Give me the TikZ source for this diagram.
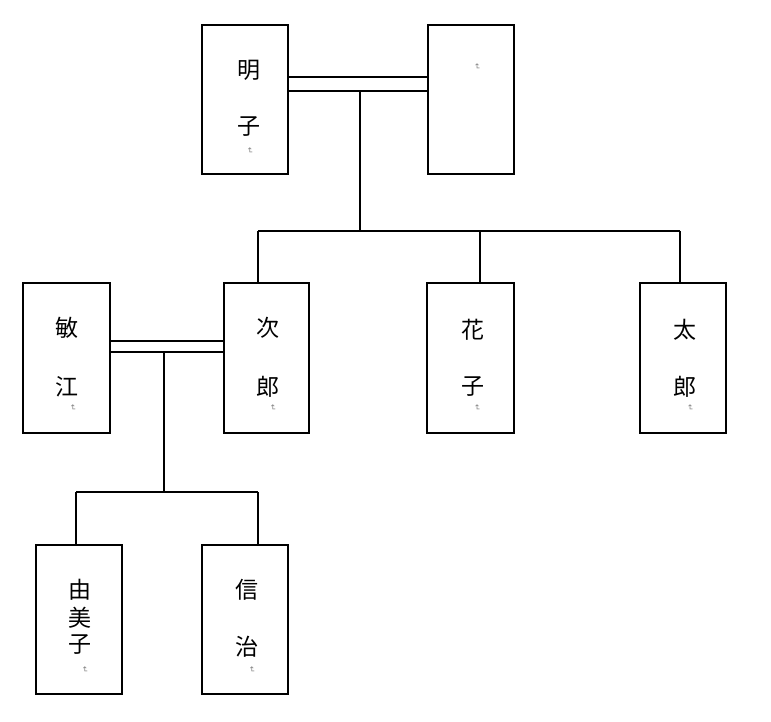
\documentclass[tikz,border=0pt]{standalone}
\usepackage{fontspec}
\newfontfamily\cjk{Noto Sans CJK JP}
\newfontfamily\symf{DejaVu Sans}
\begin{document}
\begin{tikzpicture}[x=1pt,y=-1pt,
  person/.style={draw=black,line width=1.9pt,fill=white},
  link/.style={draw=black,line width=1.9pt},
  ch/.style={font=\cjk\fontsize{23}{23}\selectfont,inner sep=0pt},
  retmark/.style={font=\symf\fontsize{8}{8}\selectfont,text=gray,rotate=-90,inner sep=0pt}]
\useasboundingbox[fill=white] (0,0) rectangle (771,722);
% boxes
\draw[person] (202,25) rectangle (288,174);
\draw[person] (428,25) rectangle (514,174);
\draw[person] (23,283) rectangle (110,433);
\draw[person] (224,283) rectangle (309,433);
\draw[person] (427,283) rectangle (514,433);
\draw[person] (640,283) rectangle (726,433);
\draw[person] (36,545) rectangle (122,694);
\draw[person] (202,545) rectangle (288,694);
% named anchor points
\coordinate (a1) at (288,77); \coordinate (s1) at (428,77);
\coordinate (a2) at (288,91); \coordinate (s2) at (428,91);
\coordinate (m1) at (360,91); \coordinate (m2) at (360,231);
\coordinate (bL) at (258,231); \coordinate (bR) at (680,231); \coordinate (bM) at (480,231);
\coordinate (jiroT) at (258,283); \coordinate (hanakoT) at (480,283); \coordinate (taroT) at (680,283);
\coordinate (t1) at (110,341); \coordinate (j1) at (224,341);
\coordinate (t2) at (110,352); \coordinate (j2) at (224,352);
\coordinate (n1) at (164,352); \coordinate (n2) at (164,492);
\coordinate (cL) at (76,492); \coordinate (cR) at (258,492);
\coordinate (yumikoT) at (76,545); \coordinate (nobuT) at (258,545);
% connectors
\draw[link] (a1) -- (s1);
\draw[link] (a2) -- (s2);
\draw[link] (m1) -- (m2);
\draw[link] (bL) -- (bR);
\draw[link] (bL) -- (jiroT);
\draw[link] (bM) -- (hanakoT);
\draw[link] (bR) -- (taroT);
\draw[link] (t1) -- (j1);
\draw[link] (t2) -- (j2);
\draw[link] (n1) -- (n2);
\draw[link] (cL) -- (cR);
\draw[link] (cL) -- (yumikoT);
\draw[link] (cR) -- (nobuT);
% texts
\node[ch] (t_a1) at (249,70) {明};
\node[ch] (t_a2) at (249,127) {子};
\node[retmark] (r_a) at (250,151) {↵};
\node[retmark] (r_s) at (477,67) {↵};
\node[ch] (t_t1) at (67,328) {敏};
\node[ch] (t_t2) at (67,387) {江};
\node[retmark] (r_t) at (73,408) {↵};
\node[ch] (t_j1) at (268,328) {次};
\node[ch] (t_j2) at (268,387) {郎};
\node[retmark] (r_j) at (273,408) {↵};
\node[ch] (t_h1) at (473,330) {花};
\node[ch] (t_h2) at (473,387) {子};
\node[retmark] (r_h) at (477,408) {↵};
\node[ch] (t_r1) at (685,330) {太};
\node[ch] (t_r2) at (685,387) {郎};
\node[retmark] (r_r) at (690,408) {↵};
\node[ch] (t_y1) at (80,590) {由};
\node[ch] (t_y2) at (80,618) {美};
\node[ch] (t_y3) at (80,645) {子};
\node[retmark] (r_y) at (85,670) {↵};
\node[ch] (t_n1) at (247,590) {信};
\node[ch] (t_n2) at (247,647) {治};
\node[retmark] (r_n) at (252,670) {↵};
\end{tikzpicture}
\end{document}
